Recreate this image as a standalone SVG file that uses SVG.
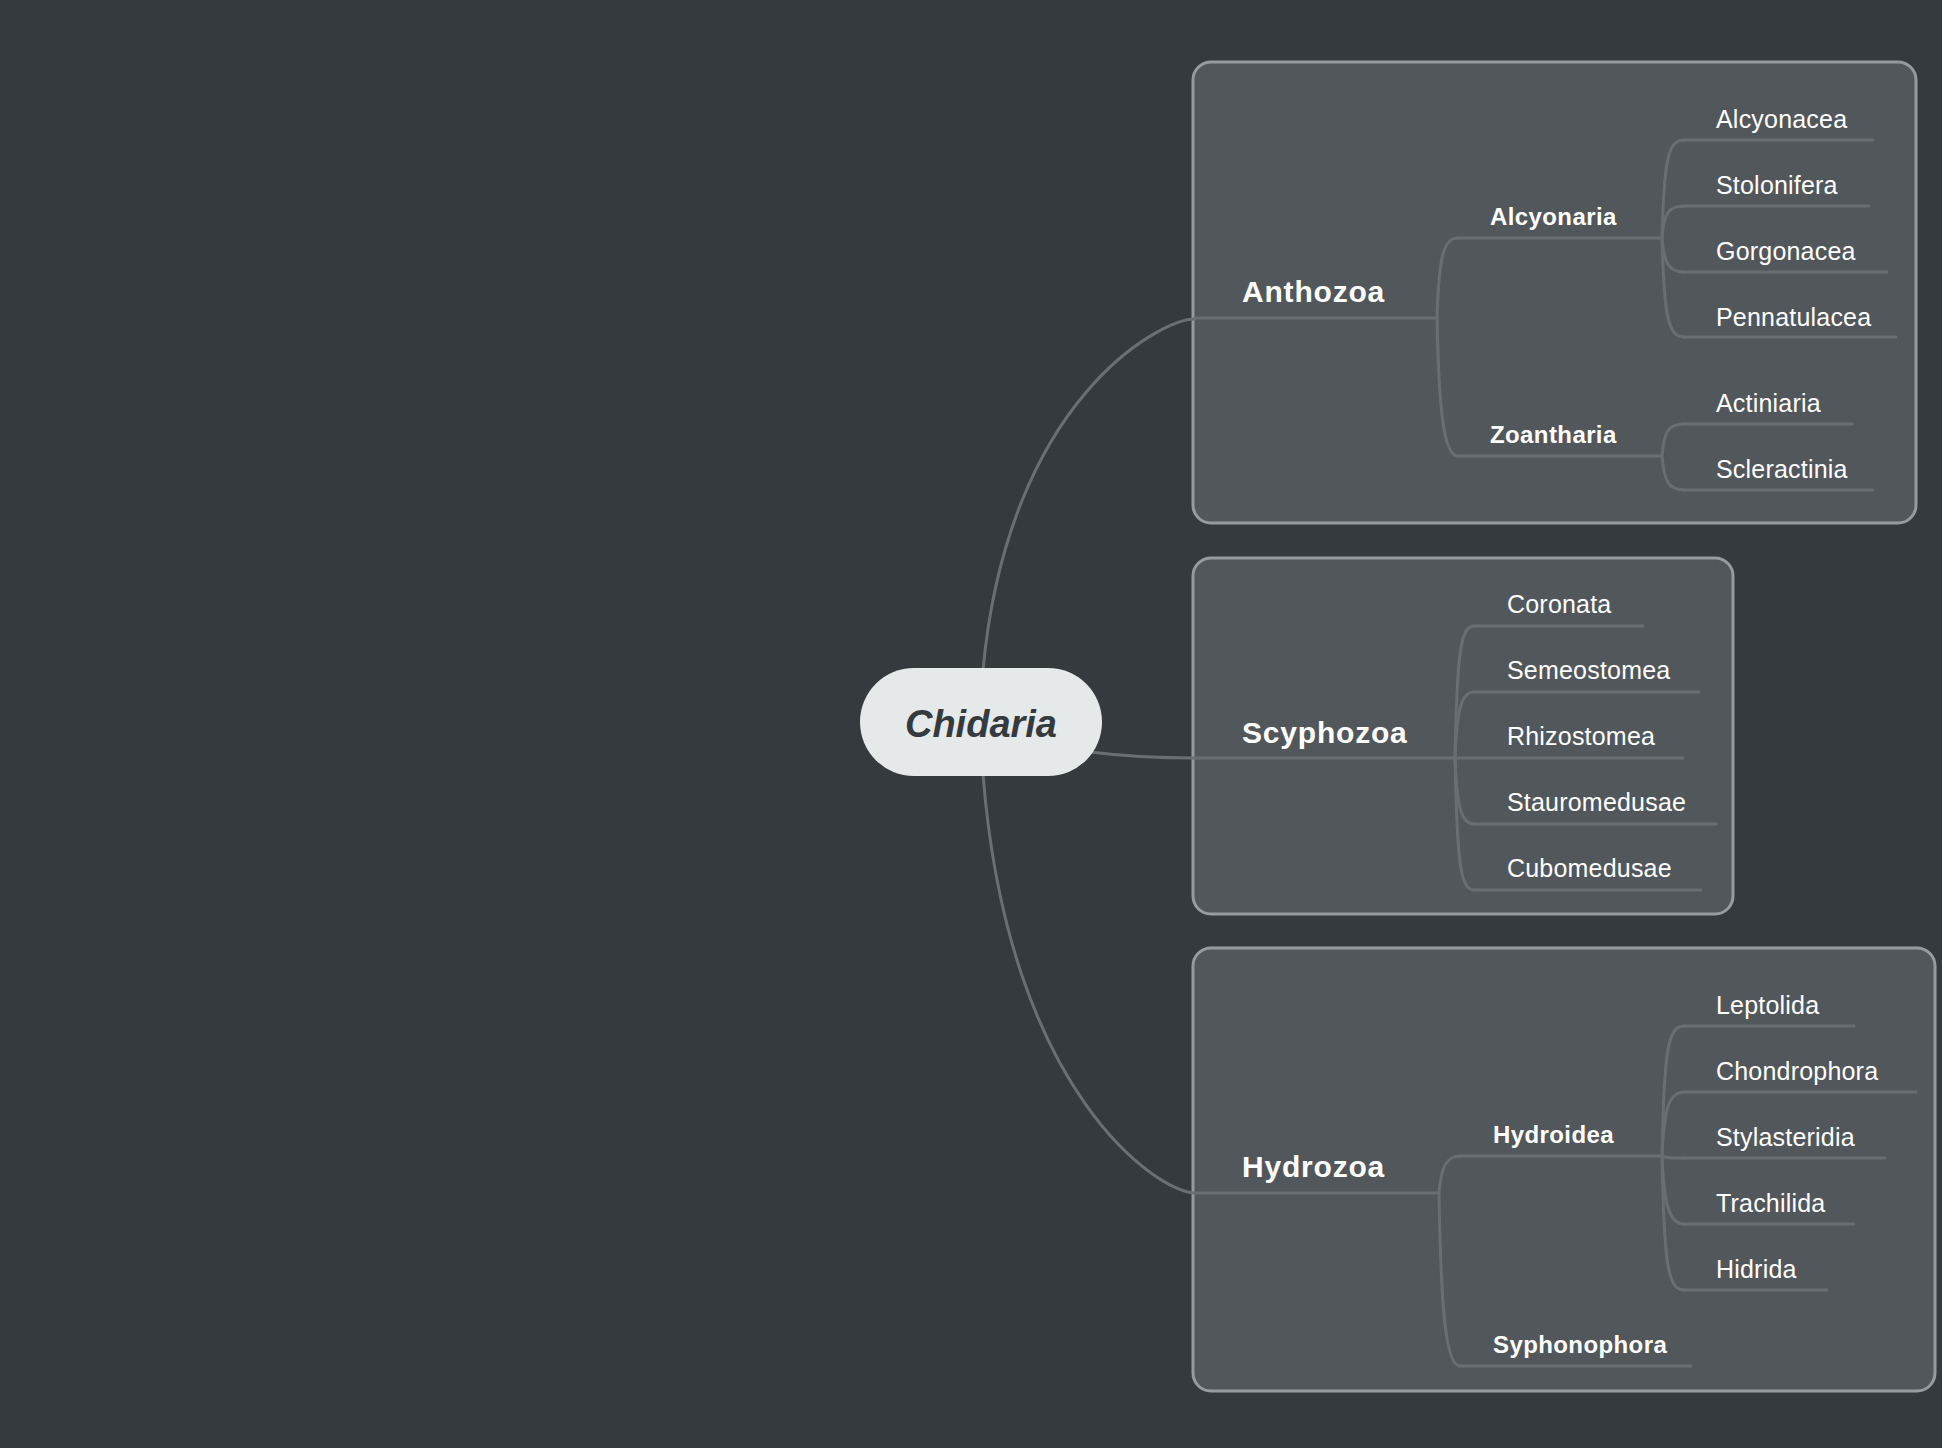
<svg xmlns="http://www.w3.org/2000/svg" width="1942" height="1448" viewBox="0 0 1942 1448">
<style>
.bg{fill:#343a3e}
.box{fill:#52575b;stroke:#979b9e;stroke-width:3}
.conn{fill:none;stroke:#6a6f73;stroke-width:3;stroke-linecap:round}
.tl{fill:none;stroke:#696e72;stroke-width:3;stroke-linecap:round}
.t1{font-family:"Liberation Sans",Arial,sans-serif;font-weight:bold;font-size:30px;letter-spacing:0.8px;fill:#ffffff}
.t2{font-family:"Liberation Sans",Arial,sans-serif;font-weight:bold;font-size:24px;letter-spacing:0.4px;fill:#ffffff}
.t3{font-family:"Liberation Sans",Arial,sans-serif;font-size:25px;letter-spacing:0.2px;fill:#ffffff}
.root{fill:#e6e9ea}
.rt{font-family:"Liberation Sans",Arial,sans-serif;font-weight:bold;font-style:italic;font-size:38px;fill:#343a3e}
</style>
<rect class="bg" x="0" y="0" width="1942" height="1448"/>

<g id="boxes">
<rect id="box-anthozoa" class="box" x="1193" y="62" width="723" height="461" rx="18"/>
<rect id="box-scyphozoa" class="box" x="1193" y="558" width="540" height="356" rx="18"/>
<rect id="box-hydrozoa" class="box" x="1193" y="948" width="742" height="443" rx="18"/>
</g>

<g id="connectors">
<path class="conn" d="M 983 670 C 1008 400, 1160 319, 1195 319"/>
<path class="conn" d="M 1090 752 C 1130 757, 1160 758, 1195 758"/>
<path class="conn" d="M 983 774 C 1008 1095, 1160 1193, 1195 1193"/>
<!-- Anthozoa -->
<path class="tl" d="M 1195 318 L 1437 318"/>
<path class="tl" d="M 1437 318 C 1439 254, 1444 238, 1458 238"/>
<path class="tl" d="M 1437 318 C 1439 420, 1445 456, 1458 456"/>
<path class="tl" d="M 1458 238 L 1662 238"/>
<path class="tl" d="M 1458 456 L 1662 456"/>
<path class="tl" d="M 1662 238 C 1664 160, 1668 140, 1684 140"/>
<path class="tl" d="M 1662 238 C 1664 214, 1668 206, 1684 206"/>
<path class="tl" d="M 1662 238 C 1664 262, 1668 272, 1684 272"/>
<path class="tl" d="M 1662 238 C 1664 315, 1668 337, 1684 337"/>
<path class="tl" d="M 1662 456 C 1664 432, 1668 424, 1684 424"/>
<path class="tl" d="M 1662 456 C 1664 480, 1668 490, 1684 490"/>
<path class="tl" d="M 1684 140 L 1873 140"/>
<path class="tl" d="M 1684 206 L 1869 206"/>
<path class="tl" d="M 1684 272 L 1887 272"/>
<path class="tl" d="M 1684 337 L 1896 337"/>
<path class="tl" d="M 1684 424 L 1852 424"/>
<path class="tl" d="M 1684 490 L 1873 490"/>
<!-- Scyphozoa -->
<path class="tl" d="M 1195 758 L 1455 758"/>
<path class="tl" d="M 1455 758 C 1457 650, 1461 626, 1474 626"/>
<path class="tl" d="M 1455 758 C 1457 710, 1461 692, 1474 692"/>
<path class="tl" d="M 1455 758 L 1474 758"/>
<path class="tl" d="M 1455 758 C 1457 806, 1461 824, 1474 824"/>
<path class="tl" d="M 1455 758 C 1457 866, 1461 890, 1474 890"/>
<path class="tl" d="M 1474 626 L 1643 626"/>
<path class="tl" d="M 1474 692 L 1699 692"/>
<path class="tl" d="M 1474 758 L 1683 758"/>
<path class="tl" d="M 1474 824 L 1716 824"/>
<path class="tl" d="M 1474 890 L 1701 890"/>
<!-- Hydrozoa -->
<path class="tl" d="M 1195 1193 L 1439 1193"/>
<path class="tl" d="M 1439 1193 C 1441 1168, 1446 1156, 1460 1156"/>
<path class="tl" d="M 1439 1193 C 1441 1320, 1447 1366, 1460 1366"/>
<path class="tl" d="M 1460 1156 L 1662 1156"/>
<path class="tl" d="M 1460 1366 L 1691 1366"/>
<path class="tl" d="M 1662 1156 C 1664 1050, 1668 1026, 1684 1026"/>
<path class="tl" d="M 1662 1156 C 1664 1112, 1668 1092, 1684 1092"/>
<path class="tl" d="M 1662 1156 C 1666 1158, 1670 1158, 1684 1158"/>
<path class="tl" d="M 1662 1156 C 1664 1200, 1668 1224, 1684 1224"/>
<path class="tl" d="M 1662 1156 C 1664 1265, 1668 1290, 1684 1290"/>
<path class="tl" d="M 1684 1026 L 1854 1026"/>
<path class="tl" d="M 1684 1092 L 1916 1092"/>
<path class="tl" d="M 1684 1158 L 1885 1158"/>
<path class="tl" d="M 1684 1224 L 1854 1224"/>
<path class="tl" d="M 1684 1290 L 1827 1290"/>
</g>

<g id="node-root">
<rect class="root" x="860" y="668" width="242" height="108" rx="54"/>
<text class="rt" x="981" y="737" text-anchor="middle">Chidaria</text>
</g>

<g id="node-anthozoa"><text class="t1" x="1242" y="302">Anthozoa</text></g>
<g id="node-alcyonaria"><text class="t2" x="1490" y="225">Alcyonaria</text></g>
<g id="node-zoantharia"><text class="t2" x="1490" y="443">Zoantharia</text></g>
<g id="node-alcyonacea"><text class="t3" x="1716" y="128">Alcyonacea</text></g>
<g id="node-stolonifera"><text class="t3" x="1716" y="194">Stolonifera</text></g>
<g id="node-gorgonacea"><text class="t3" x="1716" y="260">Gorgonacea</text></g>
<g id="node-pennatulacea"><text class="t3" x="1716" y="326">Pennatulacea</text></g>
<g id="node-actiniaria"><text class="t3" x="1716" y="412">Actiniaria</text></g>
<g id="node-scleractinia"><text class="t3" x="1716" y="478">Scleractinia</text></g>

<g id="node-scyphozoa"><text class="t1" x="1242" y="743">Scyphozoa</text></g>
<g id="node-coronata"><text class="t3" x="1507" y="613">Coronata</text></g>
<g id="node-semeostomea"><text class="t3" x="1507" y="679">Semeostomea</text></g>
<g id="node-rhizostomea"><text class="t3" x="1507" y="745">Rhizostomea</text></g>
<g id="node-stauromedusae"><text class="t3" x="1507" y="811">Stauromedusae</text></g>
<g id="node-cubomedusae"><text class="t3" x="1507" y="877">Cubomedusae</text></g>

<g id="node-hydrozoa"><text class="t1" x="1242" y="1177">Hydrozoa</text></g>
<g id="node-hydroidea"><text class="t2" x="1493" y="1143">Hydroidea</text></g>
<g id="node-syphonophora"><text class="t2" x="1493" y="1353">Syphonophora</text></g>
<g id="node-leptolida"><text class="t3" x="1716" y="1014">Leptolida</text></g>
<g id="node-chondrophora"><text class="t3" x="1716" y="1080">Chondrophora</text></g>
<g id="node-stylasteridia"><text class="t3" x="1716" y="1146">Stylasteridia</text></g>
<g id="node-trachilida"><text class="t3" x="1716" y="1212">Trachilida</text></g>
<g id="node-hidrida"><text class="t3" x="1716" y="1278">Hidrida</text></g>
</svg>
